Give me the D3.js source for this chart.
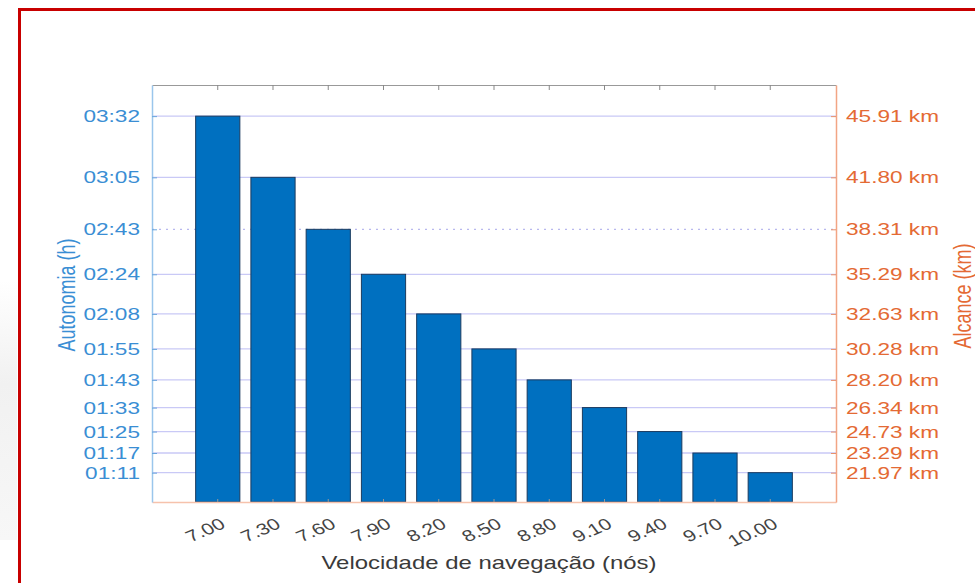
<!DOCTYPE html>
<html lang="pt">
<head>
    <meta charset="UTF-8">
    <title>Autonomia e alcance</title>
    <script src="https://d3js.org/d3.v7.min.js"></script>
    <style>
        body { margin: 0; background: #fff; }
        text { font-family: "Liberation Sans", Arial, sans-serif; }
    </style>
</head>
<body>
    <svg id="chart" width="975" height="583"></svg>
    <script>
        // data
        var speeds = ["7.00", "7.30", "7.60", "7.90", "8.20", "8.50", "8.80", "9.10", "9.40", "9.70", "10.00"];
        var autonomia = ["03:32", "03:05", "02:43", "02:24", "02:08", "01:55", "01:43", "01:33", "01:25", "01:17", "01:11"];
        var alcance = [45.91, 41.80, 38.31, 35.29, 32.63, 30.28, 28.20, 26.34, 24.73, 23.29, 21.97];

        var margin = {top: 85, right: 139, bottom: 81, left: 152},
            width = 975 - margin.left - margin.right,
            height = 583 - margin.top - margin.bottom;

        // the source picture is stretched sideways, so the text is too
        var sx = 1.33;

        var svg = d3.select("#chart");

        // grey smudge + red frame of the screenshot
        var grad = svg.append("defs").append("linearGradient")
            .attr("id", "smudge").attr("x1", 0).attr("x2", 0).attr("y1", 0).attr("y2", 1);
        grad.append("stop").attr("offset", "0%").attr("stop-color", "#fff");
        grad.append("stop").attr("offset", "40%").attr("stop-color", "#f1f1f1");
        grad.append("stop").attr("offset", "100%").attr("stop-color", "#f7f7f7");
        svg.append("rect").attr("x", 0).attr("y", 280).attr("width", 17).attr("height", 260)
            .attr("fill", "url(#smudge)");
        svg.append("line").attr("x1", 19.5).attr("x2", 19.5).attr("y1", 8).attr("y2", 583)
            .attr("stroke", "#c80000").attr("stroke-width", 3);
        svg.append("line").attr("x1", 18).attr("x2", 975).attr("y1", 9.5).attr("y2", 9.5)
            .attr("stroke", "#c80000").attr("stroke-width", 3);

        var g = svg.append("g")
            .attr("transform", "translate(" + margin.left + "," + margin.top + ")");

        var x = d3.scaleBand()
            .domain(speeds)
            .range([0, width])
            .paddingInner(0.2)
            .paddingOuter(0.79);

        var y = d3.scaleLinear().domain([20, 48]).range([height, 0]);

        // grid
        g.selectAll(".grid")
            .data(alcance)
            .enter().append("line")
            .attr("class", "grid")
            .attr("x1", 0).attr("x2", width)
            .attr("y1", d => y(d)).attr("y2", d => y(d))
            .attr("stroke", (d, i) => i === 2 ? "#b8b8ee" : "#c9c9f6")
            .attr("stroke-dasharray", (d, i) => i === 2 ? "2,5" : null)
            .attr("stroke-width", 1.3);

        // bars
        g.selectAll(".bar")
            .data(alcance)
            .enter().append("rect")
            .attr("class", "bar")
            .attr("x", (d, i) => x(speeds[i]))
            .attr("width", x.bandwidth())
            .attr("y", d => y(d))
            .attr("height", d => height - y(d))
            .attr("fill", "#0070c0")
            .attr("stroke", "#1b3b5e")
            .attr("stroke-width", 1);

        // top axis: ticks only
        var topAxis = g.append("g")
            .call(d3.axisTop(x).tickSize(-5).tickSizeOuter(0).tickFormat(""));
        topAxis.select(".domain").attr("stroke", "#999");
        topAxis.selectAll(".tick line").attr("stroke", "#888");

        // bottom axis
        var bottomAxis = g.append("g")
            .attr("transform", "translate(0," + height + ")")
            .call(d3.axisBottom(x).tickSize(-3).tickSizeOuter(0).tickFormat(""));
        bottomAxis.select(".domain").attr("stroke", "#f6c2ac").attr("stroke-width", 1.5);
        bottomAxis.selectAll(".tick line").attr("stroke", "#999");

        g.selectAll(".xlabel")
            .data(speeds)
            .enter().append("text")
            .attr("class", "xlabel")
            .attr("text-anchor", "end")
            .attr("transform", d => "translate(" + (x(d) + x.bandwidth() / 2 + 9) + "," + (height + 25) + ") scale(" + sx + ",1) rotate(-30)")
            .attr("fill", "#444")
            .style("font-size", "16px")
            .text(d => d);

        // left axis
        var leftAxis = g.append("g")
            .call(d3.axisLeft(y).tickValues(alcance).tickSize(-5).tickSizeOuter(0).tickFormat(""));
        leftAxis.select(".domain").attr("stroke", "#9ac6ec").attr("stroke-width", 1.5);
        leftAxis.selectAll(".tick line").attr("stroke", "#6aa6dc");

        g.selectAll(".ylabel")
            .data(alcance)
            .enter().append("text")
            .attr("class", "ylabel")
            .attr("text-anchor", "end")
            .attr("dy", "0.36em")
            .attr("transform", d => "translate(-12," + y(d) + ") scale(" + sx + ",1)")
            .attr("fill", "#3a8ed4")
            .style("font-size", "17px")
            .text((d, i) => autonomia[i]);

        // right axis
        var rightAxis = g.append("g")
            .attr("transform", "translate(" + width + ",0)")
            .call(d3.axisRight(y).tickValues(alcance).tickSize(-5).tickSizeOuter(0).tickFormat(""));
        rightAxis.select(".domain").attr("stroke", "#f2a584").attr("stroke-width", 1.5);
        rightAxis.selectAll(".tick line").attr("stroke", "#e8906a");

        g.selectAll(".rlabel")
            .data(alcance)
            .enter().append("text")
            .attr("class", "rlabel")
            .attr("dy", "0.36em")
            .attr("transform", d => "translate(" + (width + 10) + "," + y(d) + ") scale(" + sx + ",1)")
            .attr("fill", "#e46a34")
            .style("font-size", "17px")
            .text(d => d3.format(".2f")(d) + " km");

        // titles
        svg.append("text")
            .attr("text-anchor", "middle")
            .attr("transform", "translate(489,569) scale(" + sx + ",1)")
            .attr("fill", "#3a3a3a")
            .style("font-size", "18px")
            .text("Velocidade de navegação (nós)");

        svg.append("text")
            .attr("text-anchor", "middle")
            .attr("transform", "translate(75,295) scale(" + sx + ",1) rotate(-90)")
            .attr("fill", "#3a8ed4")
            .style("font-size", "18px")
            .text("Autonomia (h)");

        svg.append("text")
            .attr("text-anchor", "middle")
            .attr("transform", "translate(971,296) scale(" + sx + ",1) rotate(-90)")
            .attr("fill", "#e46a34")
            .style("font-size", "18px")
            .text("Alcance (km)");
    </script>
</body>
</html>
